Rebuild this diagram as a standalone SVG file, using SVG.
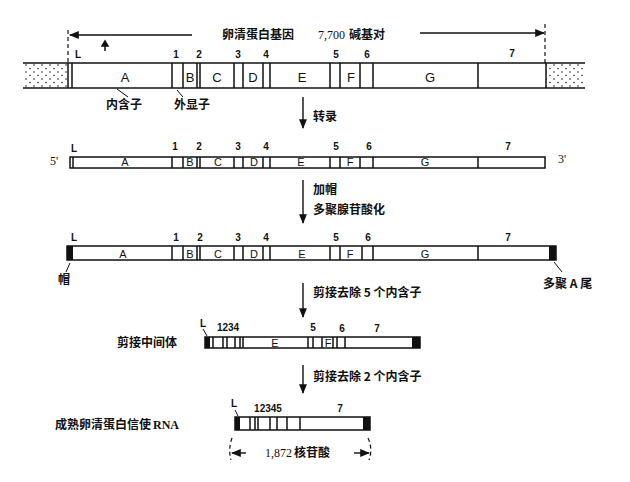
<svg xmlns="http://www.w3.org/2000/svg" width="630" height="482" viewBox="0 0 630 482">
<defs>
<pattern id="dots" width="8" height="7" patternUnits="userSpaceOnUse">
<circle cx="2" cy="2" r="0.8" fill="#222"/><circle cx="6" cy="5.5" r="0.8" fill="#222"/>
</pattern>
<marker id="ah" viewBox="0 0 10 10" refX="9" refY="5" markerWidth="7" markerHeight="7" orient="auto-start-reverse">
<path d="M0,1 L10,5 L0,9 z" fill="#111"/>
</marker>
</defs>
<style>
.bx{fill:none;stroke:#111;stroke-width:1.5}
.ln{stroke:#111;stroke-width:1.4;fill:none}
.th{stroke:#111;stroke-width:1;fill:none}
.ds{stroke:#111;stroke-width:1.2;stroke-dasharray:4,3;fill:none}
.blk{fill:#111}
.cn{font-family:"Noto Sans CJK SC","Noto Sans",sans-serif;font-size:12px;font-weight:bold;fill:#111}
.nm{font-family:"Liberation Sans",Arial,sans-serif;font-size:10px;font-weight:bold;fill:#111;text-anchor:middle}
.lt{font-family:"Liberation Sans",Arial,sans-serif;font-size:13px;fill:#111;text-anchor:middle}
.lts{font-family:"Liberation Sans",Arial,sans-serif;font-size:11px;fill:#111;text-anchor:middle}
.ser{font-family:"Liberation Serif","Times New Roman",serif;font-size:12px;fill:#111}
</style>

<g id="connectors">
<line class="ds" x1="68" y1="30" x2="68" y2="63"/>
<line class="ds" x1="545" y1="24" x2="545" y2="63"/>
<line class="ln" x1="192" y1="35" x2="70" y2="35" marker-end="url(#ah)"/>
<line class="ln" x1="420" y1="33" x2="544" y2="33" marker-end="url(#ah)"/>
<line class="ln" x1="303" y1="97" x2="303" y2="128" marker-end="url(#ah)"/>
<line class="ln" x1="303" y1="180" x2="303" y2="223" marker-end="url(#ah)"/>
<line class="ln" x1="303" y1="283" x2="303" y2="317" marker-end="url(#ah)"/>
<line class="ln" x1="303" y1="365" x2="303" y2="393" marker-end="url(#ah)"/>
<line class="th" x1="117" y1="89" x2="128" y2="97"/>
<line class="th" x1="177" y1="90" x2="183" y2="97"/>
<line class="th" x1="70" y1="263" x2="66" y2="272"/>
<line class="th" x1="554" y1="262" x2="562" y2="272"/>
<line class="th" x1="203" y1="329" x2="207" y2="336"/>
<line class="th" x1="235" y1="410" x2="238" y2="416"/>
<path class="ds" d="M232,438 Q228,449 231,460"/>
<path class="ds" d="M368,438 Q373,449 369,460"/>
<line class="ln" x1="246" y1="453" x2="232" y2="453" marker-end="url(#ah)"/>
<line class="ln" x1="354" y1="453" x2="369" y2="453" marker-end="url(#ah)"/>
</g>

<g id="gene">
<rect x="23" y="63" width="45" height="25" fill="url(#dots)"/>
<rect x="546" y="63" width="39" height="25" fill="url(#dots)"/>
<line class="bx" x1="23" y1="63" x2="585" y2="63"/>
<line class="bx" x1="23" y1="88" x2="585" y2="88"/>
<path class="bx" d="M68,63V88M72,63V88M172,63V88M183,63V88M197,63V88M200,63V88M234,63V88M243,63V88M263,63V88M270,63V88M330,63V88M340,63V88M360,63V88M373,63V88M478,63V88M546,63V88"/>
<text class="nm" x="78" y="58" font-size="11">L</text>
<path d="M105,51V44M102,46L105,41L108,46z" stroke="#111" stroke-width="1.5" fill="#111"/>
<text class="nm" x="176" y="58">1</text><text class="nm" x="199" y="58">2</text><text class="nm" x="238" y="58">3</text><text class="nm" x="266" y="58">4</text><text class="nm" x="336" y="58">5</text><text class="nm" x="367" y="58">6</text><text class="nm" x="512" y="57">7</text>
<text class="lt" x="125" y="82">A</text><text class="lt" x="190" y="82">B</text><text class="lt" x="217" y="82">C</text><text class="lt" x="253" y="82">D</text><text class="lt" x="302" y="82">E</text><text class="lt" x="351" y="82">F</text><text class="lt" x="430" y="82">G</text>
<text class="cn" x="106" y="109">内含子</text>
<text class="cn" x="174" y="109">外显子</text>
<text class="cn" x="222" y="39" font-size="13">卵清蛋白基因</text>
<text class="ser" x="318" y="39">7,700</text><text class="cn" x="349" y="39">碱基对</text>
<text class="cn" x="313" y="121">转录</text>
</g>

<g id="transcript">
<rect class="bx" x="70" y="157" width="475" height="11"/>
<path class="bx" d="M73,157V168M172,157V168M183,157V168M197,157V168M200,157V168M234,157V168M243,157V168M263,157V168M270,157V168M330,157V168M340,157V168M360,157V168M373,157V168M478,157V168"/>
<text class="nm" x="74" y="152" font-size="11">L</text>
<text class="nm" x="175" y="150">1</text><text class="nm" x="199" y="150">2</text><text class="nm" x="238" y="150">3</text><text class="nm" x="266" y="150">4</text><text class="nm" x="336" y="150">5</text><text class="nm" x="369" y="150">6</text><text class="nm" x="508" y="150">7</text>
<text class="lts" x="125" y="166">A</text><text class="lts" x="190" y="166">B</text><text class="lts" x="218" y="166">C</text><text class="lts" x="254" y="166">D</text><text class="lts" x="301" y="166">E</text><text class="lts" x="350" y="166">F</text><text class="lts" x="425" y="166">G</text>
<text class="ser" x="50" y="165" font-size="11">5'</text>
<text class="ser" x="558" y="163" font-size="11">3'</text>
<text class="cn" x="313" y="194">加帽</text>
<text class="cn" x="313" y="214">多聚腺苷酸化</text>
</g>

<g id="capped">
<rect class="bx" x="67" y="246" width="489" height="14"/>
<rect class="blk" x="67" y="246" width="6" height="14"/>
<rect class="blk" x="549" y="246" width="7" height="14"/>
<path class="bx" d="M172,246V260M183,246V260M197,246V260M200,246V260M234,246V260M243,246V260M263,246V260M270,246V260M330,246V260M340,246V260M362,246V260M373,246V260M478,246V260"/>
<text class="nm" x="74" y="241" font-size="11">L</text>
<text class="nm" x="176" y="241">1</text><text class="nm" x="200" y="241">2</text><text class="nm" x="238" y="241">3</text><text class="nm" x="266" y="241">4</text><text class="nm" x="336" y="241">5</text><text class="nm" x="368" y="241">6</text><text class="nm" x="508" y="241">7</text>
<text class="lts" x="123" y="258">A</text><text class="lts" x="190" y="258">B</text><text class="lts" x="218" y="258">C</text><text class="lts" x="254" y="258">D</text><text class="lts" x="302" y="258">E</text><text class="lts" x="350" y="258">F</text><text class="lts" x="425" y="258">G</text>
<text class="cn" x="58" y="284">帽</text>
<text class="cn" x="543" y="288">多聚 A 尾</text>
<text class="cn" x="313" y="297">剪接去除 5 个内含子</text>
</g>

<g id="intermediate">
<rect class="bx" x="205" y="337" width="215" height="11"/>
<rect class="blk" x="205" y="337" width="5" height="11"/>
<rect class="blk" x="412" y="337" width="8" height="11"/>
<path class="bx" d="M213,337V348M223,337V348M227,337V348M235,337V348M240,337V348M243,337V348M308,337V348M313,337V348M322,337V348M333,337V348M337,337V348M345,337V348"/>
<text class="nm" x="203" y="327" font-size="11">L</text>
<text class="nm" x="228" y="331">1234</text>
<text class="nm" x="313" y="331">5</text><text class="nm" x="342" y="332">6</text><text class="nm" x="377" y="332">7</text>
<text class="lts" x="275" y="347">E</text><text class="lts" x="328" y="347">F</text>
<text class="cn" x="117" y="347">剪接中间体</text>
<text class="cn" x="313" y="381">剪接去除 2 个内含子</text>
</g>

<g id="mature">
<rect class="bx" x="235" y="417" width="135" height="13"/>
<rect class="blk" x="235" y="417" width="5" height="13"/>
<rect class="blk" x="363" y="417" width="7" height="13"/>
<path class="bx" d="M250,417V430M255,417V430M258,417V430M270,417V430M277,417V430M287,417V430M300,417V430"/>
<text class="nm" x="234" y="407" font-size="11">L</text>
<text class="nm" x="268" y="412">12345</text>
<text class="nm" x="340" y="412">7</text>
<text class="cn" x="55" y="429">成熟卵清蛋白信使</text>
<text class="ser" x="153" y="429" font-weight="bold">RNA</text>
<text class="ser" x="265" y="457">1,872</text><text class="cn" x="294" y="457">核苷酸</text>
</g>
</svg>
